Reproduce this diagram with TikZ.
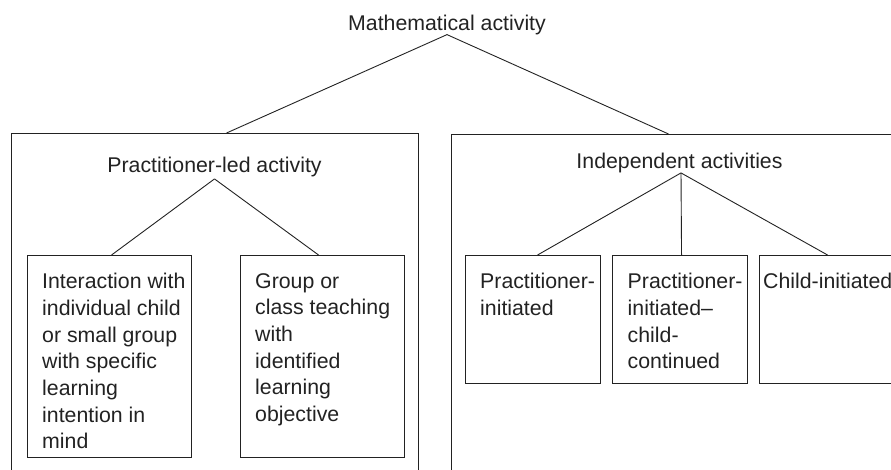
\documentclass[tikz,border=0pt]{standalone}
\usepackage{fontspec}
\setmainfont{Liberation Sans}
\definecolor{ink}{HTML}{222222}
\begin{document}
\begin{tikzpicture}[x=1pt,y=-1pt,
  every node/.style={text=ink},
  txt/.style={font=\fontsize{21.3}{26.7}\selectfont, inner sep=0pt},
  bodytxt/.style={txt, anchor=north west, align=left},
  bigbox/.style={draw=ink, line width=1.1pt, inner sep=0pt, anchor=north west, minimum width=#1, minimum height=420pt},
  smallbox/.style={draw=ink, line width=1.1pt, inner sep=0pt, anchor=north west, minimum width=#1},
  conn/.style={draw=ink, line width=0.9pt}]
\useasboundingbox (0,0) rectangle (891,469);
\clip (0,0) rectangle (891,469);

% root
\node[txt, anchor=base] (root) at (447,30) {Mathematical activity};

% big boxes
\node[bigbox=407pt] (lbig) at (11,133) {};
\node[bigbox=500pt] (rbig) at (451,134) {};

\draw[conn] (root.south) -- ([xshift=11.5pt]lbig.north);
\draw[conn] (root.south) -- ([xshift=-33pt]rbig.north);

% left group
\node[txt, anchor=base, inner ysep=2pt] (pl) at (214.5,172.3) {Practitioner-led activity};
\node[smallbox=164pt, minimum height=202pt] (b1) at (27,255) {};
\node[smallbox=164pt, minimum height=202pt] (b2) at (240,255) {};
\node[bodytxt] (t1) at ([xshift=15pt,yshift=-18pt]b1.north west)
  {Interaction with\\individual child\\or small group\\with specific\\learning\\intention in\\mind};
\node[bodytxt] (t2) at ([xshift=15pt,yshift=-18pt]b2.north west)
  {Group or\\class teaching\\with\\identified\\learning\\objective};
\draw[conn] (pl.south) -- ([xshift=2pt]b1.north);
\draw[conn] (pl.south) -- ([xshift=-4pt]b2.north);

% right group
\node[txt, anchor=base] (ia) at (679.5,168.3) {Independent activities};
\node[smallbox=135pt, minimum height=128pt] (ba) at (465,255) {};
\node[smallbox=135pt, minimum height=128pt] (bb) at (612,255) {};
\node[smallbox=135pt, minimum height=128pt] (bc) at (759,255) {};
\node[bodytxt] (ta) at ([xshift=15pt,yshift=-18pt]ba.north west)
  {Practitioner-\\initiated};
\node[bodytxt] (tb) at ([xshift=15.5pt,yshift=-18pt]bb.north west)
  {Practitioner-\\initiated--\\child-\\continued};
\node[bodytxt] (tc) at ([xshift=4pt,yshift=-18pt]bc.north west)
  {Child-initiated};
\draw[conn] ([xshift=1.5pt]ia.south) -- ([xshift=4.5pt]ba.north);
\draw[conn] ([xshift=1.5pt]ia.south) -- ([xshift=1.5pt]bb.north);
\draw[conn] ([xshift=1.5pt]ia.south) -- ([xshift=0.5pt]bc.north);
\end{tikzpicture}
\end{document}
